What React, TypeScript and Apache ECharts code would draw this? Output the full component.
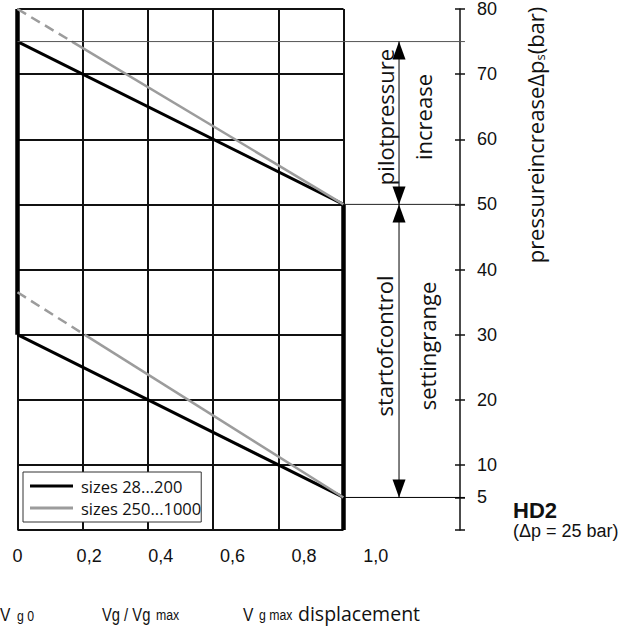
import React, { useEffect, useRef } from "react";
import * as echarts from "echarts";

// x tick labels (Vg / Vg max) and right-axis pressure ticks
const xTickValues = [0, 0.2, 0.4, 0.6, 0.8, 1.0];
const xTickLabels = ["0", "0,2", "0,4", "0,6", "0,8", "1,0"];
const yTickValues = [0, 5, 10, 20, 30, 40, 50, 60, 70, 80];
const yLabelValues = [5, 10, 20, 30, 40, 50, 60, 70, 80];

// Vg max position on the Vg/Vgmax scale
const vgMax = 0.91;

// series "sizes 28...200" (black)
const blackUpper = [[0, 75], [0.91, 50]];
const blackLower = [[0, 30], [0.91, 5]];
const blackLeft = [[0, 30], [0, 80]];
const blackRight = [[0.91, 50], [0.91, 0]];

// series "sizes 250...1000" (grey)
const greyUpperSolid = [[0.152, 75], [0.91, 50]];
const greyUpperDashed = [[0, 80], [0.152, 75]];
const greyLowerSolid = [[0.187, 30], [0.91, 5]];
const greyLowerDashed = [[0, 36.5], [0.187, 30]];

// pressure levels marked by arrows
const pilotTop = 75;
const settingTop = 50;
const settingBottom = 5;

const nameBlack = "sizes 28...200";
const nameGrey = "sizes 250...1000";

const OPEN = '"Open Sans", "Noto Sans", sans-serif';
const ARIAL = '"Liberation Sans", Arial, sans-serif';

export default function App() {
  const ref = useRef<HTMLDivElement>(null);

  useEffect(() => {
    if (!ref.current) return;
    const chart = echarts.init(ref.current, undefined, { renderer: "svg" });

    const line = (name: string, data: number[][], color: string, width: number, type: any = "solid") => ({
      type: "line",
      name,
      data,
      xAxisIndex: 0,
      yAxisIndex: 0,
      symbol: "none",
      showSymbol: false,
      silent: true,
      lineStyle: { color, width, type },
      itemStyle: { color },
      z: 3,
    });

    const option: any = {
      animation: false,
      backgroundColor: "#ffffff",
      grid: [
        { left: 17.5, top: 7, width: 326, height: 523, containLabel: false },
        { left: 17.5, top: 7, width: 358.2, height: 523, containLabel: false },
      ],
      xAxis: [
        {
          type: "value",
          gridIndex: 0,
          min: 0,
          max: vgMax,
          interval: 0.182,
          axisLine: { show: false },
          axisTick: { show: false },
          axisLabel: { show: false },
          splitLine: { show: true, lineStyle: { color: "#111", width: 2 } },
        },
        {
          type: "value",
          gridIndex: 1,
          min: 0,
          max: 1,
          interval: 0.2,
          axisLine: { show: false },
          axisTick: { show: false },
          splitLine: { show: false },
          axisLabel: {
            show: true,
            margin: 17,
            fontSize: 18,
            fontFamily: ARIAL,
            color: "#111",
            formatter: (v: number) => {
              const i = xTickValues.findIndex((t) => Math.abs(t - v) < 1e-6);
              return i >= 0 ? xTickLabels[i] : "";
            },
          },
        },
      ],
      yAxis: [
        {
          type: "value",
          gridIndex: 0,
          min: 0,
          max: 80,
          interval: 10,
          axisLine: { show: false },
          axisTick: { show: false },
          axisLabel: { show: false },
          splitLine: { show: true, lineStyle: { color: "#111", width: 2 } },
        },
        {
          type: "value",
          gridIndex: 0,
          position: "right",
          offset: 116.5,
          min: 0,
          max: 80,
          interval: 10,
          axisLine: { show: true, onZero: false, lineStyle: { color: "#111", width: 1.5 } },
          axisTick: { show: true, length: 5, customValues: yTickValues, lineStyle: { color: "#111", width: 1.5 } },
          axisLabel: {
            show: true,
            customValues: yLabelValues,
            margin: 17,
            fontSize: 18,
            fontFamily: ARIAL,
            color: "#111",
            padding: [12, 0, 0, 0],
          },
          splitLine: { show: false },
        },
        {
          type: "value",
          gridIndex: 0,
          position: "right",
          offset: 116.5,
          min: 0,
          max: 80,
          interval: 10,
          axisLine: { show: false },
          axisTick: { show: true, inside: true, length: 5, customValues: yTickValues, lineStyle: { color: "#111", width: 1.5 } },
          axisLabel: { show: false },
          splitLine: { show: false },
        },
        { type: "value", gridIndex: 1, min: 0, max: 80, show: false },
      ],
      legend: {
        data: [
          { name: nameBlack, icon: "rect", itemStyle: { color: "#000" } },
          { name: nameGrey, icon: "rect", itemStyle: { color: "#9c9c9c" } },
        ],
        orient: "vertical",
        left: 23,
        top: 472,
        itemWidth: 43,
        itemHeight: 3,
        itemGap: 4,
        padding: [5, 0, 5, 7],
        backgroundColor: "#ffffff",
        borderColor: "#333",
        borderWidth: 1,
        borderRadius: 0,
        selectedMode: false,
        textStyle: { fontSize: 16.5, lineHeight: 18, fontFamily: OPEN, color: "#111", padding: [0, 0, 0, 3] },
      },
      series: [
        line(nameBlack, blackUpper, "#000", 3),
        line(nameBlack, blackLower, "#000", 3),
        line(nameBlack, blackLeft, "#000", 4.5),
        line(nameBlack, blackRight, "#000", 4.5),
        line(nameGrey, greyUpperSolid, "#9c9c9c", 2.5),
        line(nameGrey, greyLowerSolid, "#9c9c9c", 2.5),
        line(nameGrey, greyUpperDashed, "#9c9c9c", 2.5, [10, 6]),
        line(nameGrey, greyLowerDashed, "#9c9c9c", 2.5, [10, 6]),
      ],
    };

    chart.setOption(option);

    const px = (x: number, y: number) => chart.convertToPixel({ gridIndex: 0 }, [x, y]) as number[];
    const arrowX = px(1.065, 0)[0];
    const extEnd = px(1.249, 0)[0];
    const gridLeft = px(0, 0)[0];
    const gridRight = px(vgMax, 0)[0];
    const yPilot = px(0, pilotTop)[1];
    const yTop = px(0, settingTop)[1];
    const yBot = px(0, settingBottom)[1];

    const hl = (x1: number, x2: number, y: number, color: string) => ({
      type: "line",
      silent: true,
      z: 10,
      shape: { x1, y1: y, x2, y2: y },
      style: { stroke: color, lineWidth: 1 },
    });
    const vl = (x: number, y1: number, y2: number) => ({
      type: "line",
      silent: true,
      z: 10,
      shape: { x1: x, y1, x2: x, y2 },
      style: { stroke: "#000", lineWidth: 1 },
    });
    const head = (x: number, yTip: number, dir: number) => ({
      type: "polygon",
      silent: true,
      z: 11,
      shape: { points: [[x, yTip], [x - 6.5, yTip + dir * 18], [x + 6.5, yTip + dir * 18]] },
      style: { fill: "#000" },
    });
    const vtext = (x: number, y: number, text: string, size: number, rich?: any) => ({
      type: "text",
      silent: true,
      z: 12,
      x,
      y,
      rotation: Math.PI / 2,
      style: {
        text,
        fontSize: size,
        fontFamily: OPEN,
        fill: "#111",
        align: "center",
        verticalAlign: "middle",
        rich,
      },
    });
    const txt = (x: number, y: number, text: string, size: number, family: string, scaleX = 1, weight = "normal") => ({
      type: "text",
      silent: true,
      z: 12,
      x,
      y,
      scaleX,
      style: { text, fontSize: size, fontFamily: family, fontWeight: weight, fill: "#111", align: "left", verticalAlign: "middle" },
    });

    const graphic: any[] = [
      hl(gridLeft, extEnd, yPilot, "#555"),
      hl(gridRight, extEnd, yTop, "#222"),
      hl(gridRight, extEnd, yBot, "#000"),
      vl(arrowX, yPilot, yTop),
      vl(arrowX, yTop, yBot),
      head(arrowX, yPilot, 1),
      head(arrowX, yTop, -1),
      head(arrowX, yTop, 1),
      head(arrowX, yBot, -1),
      vtext(385, 117, "pilotpressure", 22),
      vtext(423, 117, "increase", 22),
      vtext(384, 346, "startofcontrol", 22),
      vtext(427, 346, "settingrange", 22),
      vtext(535, 135, "pressureincreaseΔp{s|s}(bar)", 22, {
        s: { fontSize: 13, fontFamily: OPEN, fill: "#111", padding: [10, 0, 0, 0] },
      }),
      txt(513, 510, "HD2", 22, ARIAL, 1, "bold"),
      txt(513, 531, "(Δp = 25 bar)", 18, ARIAL),
      // bottom captions
      txt(0, 614, "V", 19, ARIAL, 0.82),
      txt(17, 616, "g 0", 15, ARIAL, 0.82),
      txt(102, 614, "Vg / Vg", 18, ARIAL, 0.82),
      txt(156, 615, "max", 15, ARIAL, 0.82),
      txt(243, 614, "V", 19, ARIAL, 0.82),
      txt(259, 615, "g max", 15, ARIAL, 0.82),
      txt(298, 613, "displacement", 19.5, OPEN),
    ];

    chart.setOption({ graphic });

    return () => {
      chart.dispose();
    };
  }, []);

  return <div ref={ref} style={{ position: "fixed", left: 0, top: 0, width: 636, height: 626 }} />;
}
